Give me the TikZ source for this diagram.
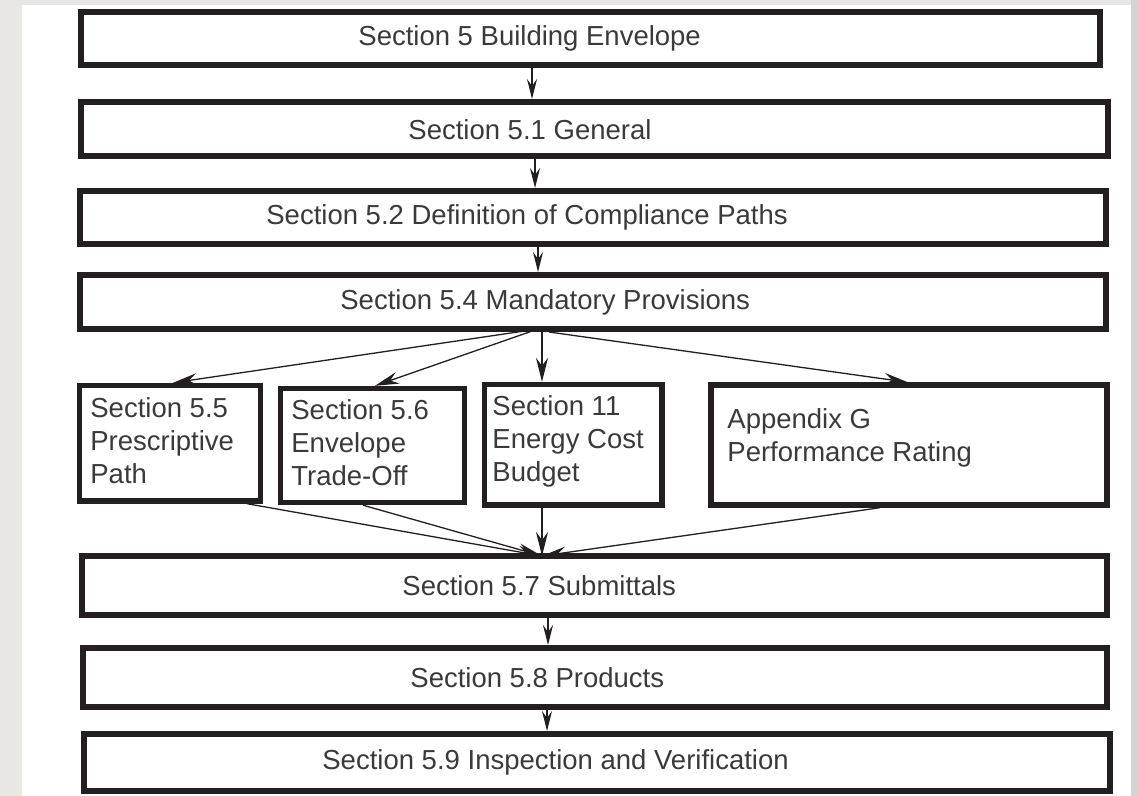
\documentclass[tikz,border=0pt]{standalone}
\usepackage{fontspec}
\setmainfont{Liberation Sans}
\usepackage{tikz}
\usetikzlibrary{arrows.meta}

\definecolor{pagegray}{HTML}{E8E7E4}
\definecolor{edgegray}{HTML}{D4D4D4}
\definecolor{boxline}{HTML}{231F20}
\definecolor{inkgray}{HTML}{3A3A3A}

\tikzset{
  secbox/.style={draw=boxline, line width=3pt, inner sep=0pt},
  subbox/.style={secbox, line width=2.7pt},
  seclabel/.style={text=inkgray, inner sep=0pt, anchor=west, font=\fontsize{13.75pt}{16.5pt}\selectfont},
  sublabel/.style={seclabel, anchor=north west, align=left},
  flow/.style={draw=boxline, line width=0.65pt, -{Stealth[length=10pt,width=5pt,inset=3.5pt]}},
  fanflow/.style={flow, -{Stealth[length=12pt,width=6pt,inset=4pt]}}
}

\begin{document}
\begin{tikzpicture}[x=0.5pt, y=-0.5pt]
    % page and margins
    \fill[pagegray] (0,0) rectangle (1138,796);
    \fill[white] (22,5) rectangle (1131,796);
    \fill[edgegray] (1131,0) rectangle (1138,796);
    \useasboundingbox (0,0) rectangle (1138,796);

    % top of the chain
    \node[secbox, minimum width=509.5pt, minimum height=26.5pt] (s5) at (590.5,38.5) {};
    \node[secbox, minimum width=513.5pt, minimum height=27pt] (s51) at (594.5,129) {};
    \node[secbox, minimum width=513.25pt, minimum height=26.75pt] (s52) at (592.75,217.75) {};
    \node[secbox, minimum width=513pt, minimum height=27pt] (s54) at (593,302) {};

    \node[seclabel] (t5) at (358,38.5) {Section 5 Building Envelope};
    \node[seclabel] (t51) at (408,130) {Section 5.1 General};
    \node[seclabel] (t52) at (266,217.75) {Section 5.2 Definition of Compliance Paths};
    \node[seclabel] (t54) at (340,302) {Section 5.4 Mandatory Provisions};

    % compliance paths
    \node[subbox, minimum width=90.5pt, minimum height=57.75pt] (s55) at (170,443.25) {};
    \node[subbox, minimum width=92pt, minimum height=57pt] (s56) at (372.5,445.5) {};
    \node[subbox, minimum width=88.75pt, minimum height=60.25pt] (s11) at (573.25,444.75) {};
    \node[subbox, minimum width=198pt, minimum height=60pt] (sG) at (909,445) {};

    \node[sublabel] (t55) at (90,397) {Section 5.5\\Prescriptive\\Path};
    \node[sublabel] (t56) at (291,399) {Section 5.6\\Envelope\\Trade-Off};
    \node[sublabel] (t11) at (492,395) {Section 11\\Energy Cost\\Budget};
    \node[sublabel] (tG) at (727,408) {Appendix G\\Performance Rating};

    % bottom of the chain
    \node[secbox, minimum width=512.75pt, minimum height=29.25pt] (s57) at (594.25,585.25) {};
    \node[secbox, minimum width=512.25pt, minimum height=29.25pt] (s58) at (594.75,677.25) {};
    \node[secbox, minimum width=513pt, minimum height=28.25pt] (s59) at (597,762.25) {};

    \node[seclabel] (t57) at (402,585.25) {Section 5.7 Submittals};
    \node[seclabel] (t58) at (410,677.25) {Section 5.8 Products};
    \node[seclabel] (t59) at (322,762.25) {Section 5.9 Inspection and Verification};

    % arrows
    \draw[flow] (s5.south -| 532,0) -- (s51.north -| 532,0);
    \draw[flow] (s51.south -| 535,0) -- (s52.north -| 535,0);
    \draw[flow] (s52.south -| 538,0) -- (s54.north -| 538,0);

    \coordinate (fork) at (538,329);
    \draw[fanflow] (fork) -- (s55.north -| 173,0);
    \draw[fanflow] (fork) -- (s56.north -| 375,0);
    \draw[fanflow] (s54.south -| 542,0) -- (s11.north -| 542,0);
    \draw[fanflow] (s54.south -| 549,0) -- (sG.north -| 908,0);

    \coordinate (join) at (542,556);
    \draw[fanflow] (s55.south -| 247,0) -- (join);
    \draw[fanflow] (s56.south -| 363,0) -- (join);
    \draw[fanflow] (s11.south -| 542,0) -- (join);
    \draw[fanflow] (sG.south -| 880,0) -- (join);

    \draw[flow] (s57.south -| 548,0) -- (s58.north -| 548,0);
    \draw[flow] (s58.south -| 547,0) -- (s59.north -| 547,0);
\end{tikzpicture}
\end{document}
